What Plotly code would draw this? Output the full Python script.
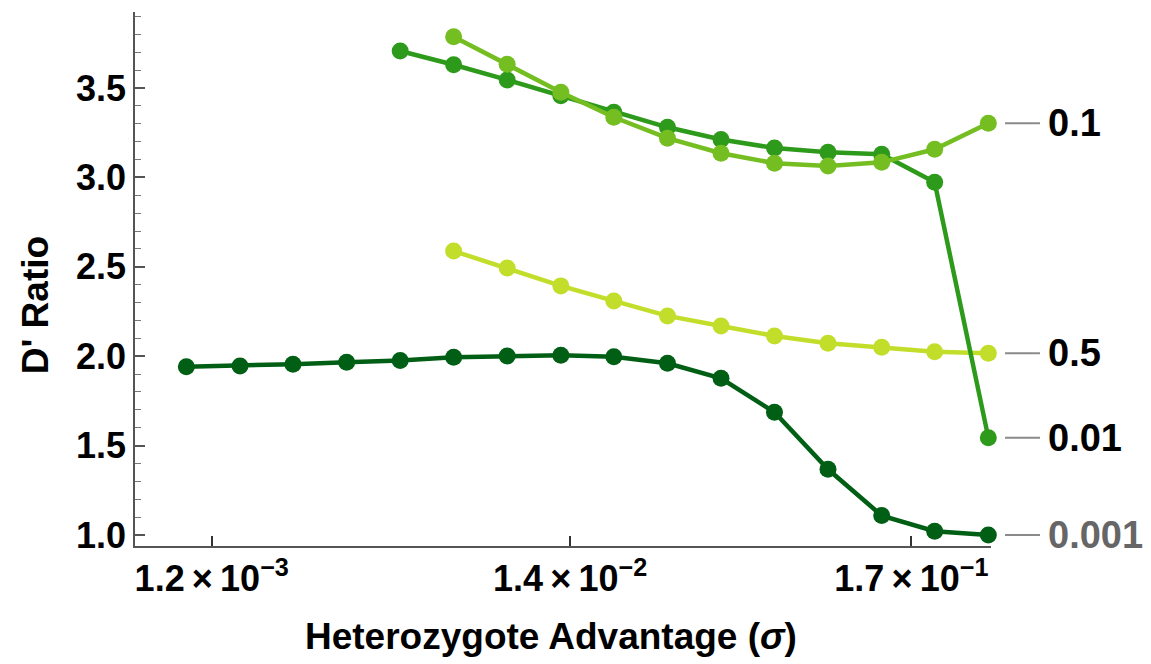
import plotly.graph_objects as go

# Heterozygote advantage values (log-spaced, six per decade)
sigma = [0.001, 0.00147, 0.00215, 0.00316, 0.00464, 0.00681, 0.01, 0.0147,
         0.0215, 0.0316, 0.0464, 0.0681, 0.1, 0.147, 0.215, 0.316]

# D' ratio for each recombination setting
d_001 = [1.941, 1.945, 1.955, 1.966, 1.975, 1.994, 2.001, 2.005,
         1.996, 1.960, 1.876, 1.686, 1.367, 1.108, 1.021, 1.000]
d_01 = [3.707, 3.630, 3.545, 3.457, 3.364, 3.280, 3.212, 3.164,
        3.140, 3.129, 2.973, 1.544]
d_1 = [3.787, 3.633, 3.476, 3.336, 3.219, 3.135, 3.079, 3.064,
       3.084, 3.157, 3.303]
d_5 = [2.588, 2.493, 2.393, 2.309, 2.225, 2.169, 2.113, 2.072,
       2.050, 2.025, 2.016]

series_names = ["0.5", "0.001", "0.01", "0.1"]
series_values = [d_5, d_001, d_01, d_1]
series_colors = ["#c2de2b", "#005f14", "#2e9a1b", "#74be22"]
label_colors = ["#000000", "#666666", "#000000", "#000000"]

x_tick_vals = [0.0012, 0.0157, 0.182]
x_tick_text = ["1.2\u2009\u00d7\u200910<sup>\u22123</sup>",
               "1.4\u2009\u00d7\u200910<sup>\u22122</sup>",
               "1.7\u2009\u00d7\u200910<sup>\u22121</sup>"]

FONT = "Liberation Sans, Arial, sans-serif"

fig = go.Figure()
for name, vals, col in zip(series_names, series_values, series_colors):
    xs = sigma[len(sigma) - len(vals):]
    fig.add_trace(go.Scatter(
        x=xs, y=vals, mode="lines+markers", name=name,
        line=dict(color=col, width=4.5),
        marker=dict(color=col, size=17),
        showlegend=False, cliponaxis=False,
    ))

# end labels with short leader lines
for name, vals, tc in zip(series_names, series_values, label_colors):
    y_end = vals[-1]
    fig.add_shape(type="line", xref="paper", yref="y",
                  x0=1.0164, x1=1.0572, y0=y_end, y1=y_end,
                  line=dict(color="#8a8a8a", width=2))
    fig.add_annotation(xref="paper", yref="y", x=1.0646, y=y_end,
                       text=name, showarrow=False, xanchor="left",
                       yanchor="middle",
                       font=dict(family=FONT, size=38, color=tc, weight="bold"))

# axis titles
fig.add_annotation(xref="paper", yref="paper", x=0.486, y=-0.170,
                   text="Heterozygote Advantage (<i>\u03c3</i>)", showarrow=False,
                   xanchor="center", yanchor="middle",
                   font=dict(family=FONT, size=37, color="#000000", weight="bold"))
fig.add_annotation(xref="paper", yref="paper", x=-0.1168, y=0.451,
                   text="D' Ratio", showarrow=False, textangle=-90,
                   xanchor="center", yanchor="middle",
                   font=dict(family=FONT, size=37, color="#000000", weight="bold"))

fig.update_xaxes(
    type="log", range=[-3.16, -0.492],
    tickvals=x_tick_vals, ticktext=x_tick_text,
    ticks="inside", ticklen=10, tickwidth=1.5, tickcolor="#333333",
    showline=True, linecolor="#555555", linewidth=1.5,
    showgrid=False, zeroline=False,
    tickfont=dict(family=FONT, size=36, color="#000000", weight="bold"),
)
fig.update_yaxes(
    range=[0.938, 3.925], tick0=1.0, dtick=0.5, tickformat=".1f",
    ticks="inside", ticklen=10, tickwidth=1.5, tickcolor="#555555",
    minor=dict(dtick=0.1, ticks="inside", ticklen=6, tickwidth=1, tickcolor="#777777"),
    showline=True, linecolor="#555555", linewidth=1.5,
    showgrid=False, zeroline=False,
    tickfont=dict(family=FONT, size=36, color="#000000", weight="bold"),
)

fig.update_layout(
    width=1151, height=664,
    margin=dict(l=135, r=160, t=12, b=118),
    plot_bgcolor="white", paper_bgcolor="white",
)

fig.write_html("out.html")
